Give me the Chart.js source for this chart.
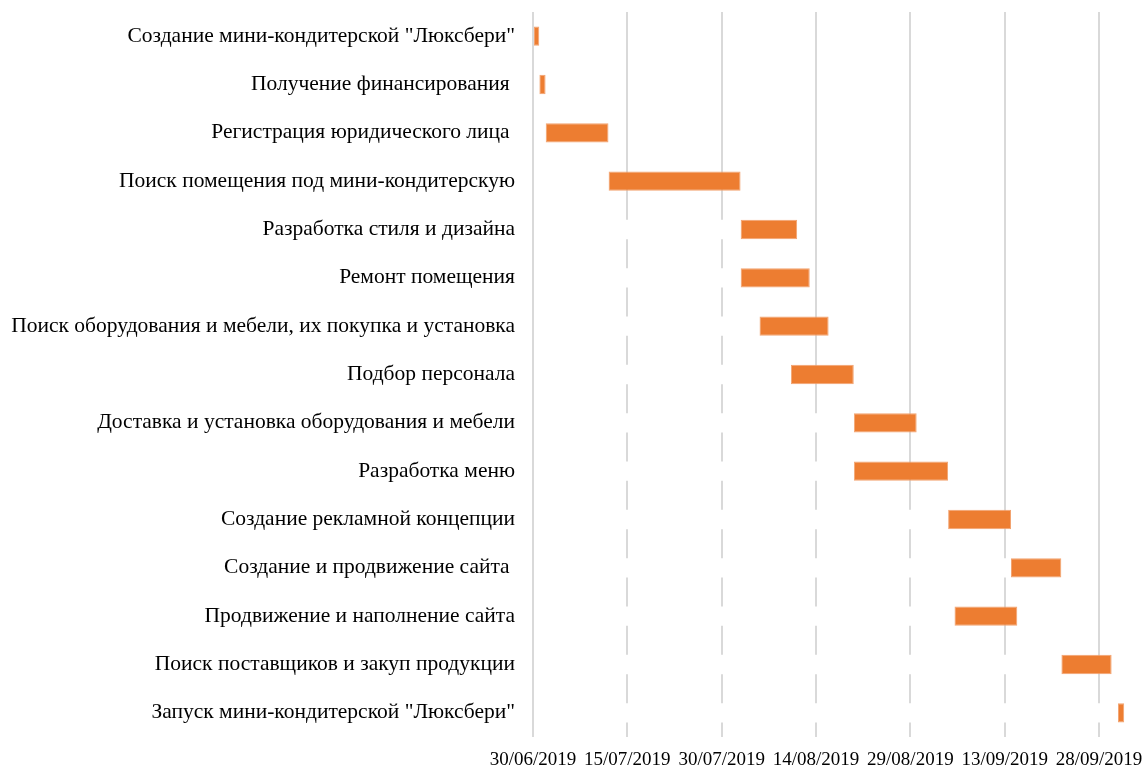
<!DOCTYPE html>
<html>
<head>
<meta charset="utf-8">
<script src="https://cdn.jsdelivr.net/npm/chart.js@4"></script>
<style>
  html, body { margin: 0; padding: 0; background: #fff; }
  #wrap { width: 1145px; height: 769px; position: relative; }
</style>
</head>
<body>
<div id="wrap"><canvas id="c"></canvas></div>
<script>
const tasks = [
  'Создание мини-кондитерской "Люксбери"',
  'Получение финансирования ',
  'Регистрация юридического лица ',
  'Поиск помещения под мини-кондитерскую',
  'Разработка стиля и дизайна',
  'Ремонт помещения',
  'Поиск оборудования и мебели, их покупка и установка',
  'Подбор персонала',
  'Доставка и установка оборудования и мебели',
  'Разработка меню',
  'Создание рекламной концепции',
  'Создание и продвижение сайта ',
  'Продвижение и наполнение сайта',
  'Поиск поставщиков и закуп продукции',
  'Запуск мини-кондитерской "Люксбери"'
];
const startDates = [
  '30/06/2019', '01/07/2019', '02/07/2019', '12/07/2019', '02/08/2019',
  '02/08/2019', '05/08/2019', '10/08/2019', '20/08/2019', '20/08/2019',
  '04/09/2019', '14/09/2019', '05/09/2019', '22/09/2019', '01/10/2019'
];
const durations = [1, 1, 10, 21, 9, 11, 11, 10, 10, 15, 10, 8, 10, 8, 1];
const tickLabels = ['30/06/2019', '15/07/2019', '30/07/2019', '14/08/2019', '29/08/2019', '13/09/2019', '28/09/2019'];
const axisStart = '30/06/2019';
const axisEndDays = 95;
const tickStepDays = 15;

function parseDMY(s) {
  const [d, m, y] = s.split('/').map(Number);
  return Date.UTC(y, m - 1, d);
}
const DAY = 86400000;
const t0 = parseDMY(axisStart);
const offsets = startDates.map(s => Math.round((parseDMY(s) - t0) / DAY));

const FONT = "'Liberation Serif', 'Times New Roman', serif";

new Chart(document.getElementById('c'), {
  type: 'bar',
  data: {
    labels: tasks,
    datasets: [
      {
        label: 'Начало',
        data: offsets,
        backgroundColor: '#ffffff',
        borderWidth: 0,
        barPercentage: 0.4,
        categoryPercentage: 1
      },
      {
        label: 'Длительность',
        data: durations,
        backgroundColor: '#ED7D31',
        borderColor: '#f2a370',
        borderWidth: 1,
        borderSkipped: false,
        barPercentage: 0.4,
        categoryPercentage: 1
      }
    ]
  },
  options: {
    indexAxis: 'y',
    responsive: true,
    maintainAspectRatio: false,
    animation: false,
    layout: { padding: { top: 12, right: 14.5, bottom: 0, left: 0 } },
    plugins: { legend: { display: false }, tooltip: { enabled: false } },
    scales: {
      x: {
        type: 'linear',
        stacked: true,
        min: 0,
        max: axisEndDays,
        border: { display: false },
        grid: { color: '#d9d9d9', lineWidth: 2, drawTicks: false },
        afterBuildTicks: (s) => { s.ticks = tickLabels.map((_, i) => ({ value: i * tickStepDays })); },
        afterFit: (s) => { s.height = 32; s.paddingLeft = 0; s.paddingRight = 0; },
        ticks: {
          stepSize: tickStepDays,
          autoSkip: false,
          maxRotation: 0,
          padding: 12,
          color: '#000',
          font: { family: FONT, size: 19 },
          callback: (v) => tickLabels[Math.round(v / tickStepDays)] ?? ''
        }
      },
      y: {
        stacked: true,
        border: { display: false },
        grid: { display: false, drawTicks: false },
        afterFit: (s) => { s.width = 533; s.paddingTop = 0; s.paddingBottom = 0; },
        ticks: {
          padding: 18,
          autoSkip: false,
          color: '#000',
          font: { family: FONT, size: 21.5 }
        }
      }
    }
  }
});
</script>
</body>
</html>
